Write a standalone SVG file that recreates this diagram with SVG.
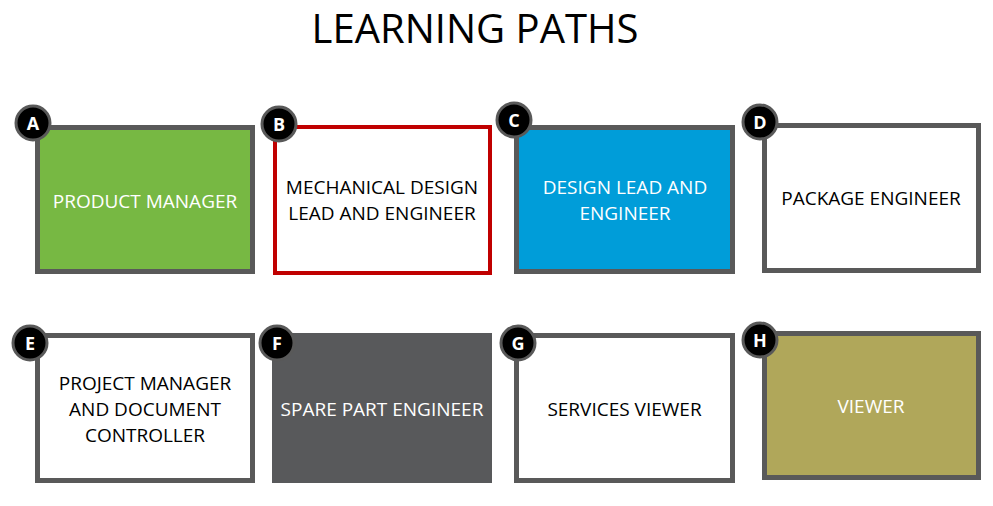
<svg xmlns="http://www.w3.org/2000/svg" width="993" height="506" viewBox="0 0 993 506">
<style>
.box{stroke:#595959;stroke-width:5}
.lbl{font-family:"Open Sans","Noto Sans","Liberation Sans",sans-serif;font-size:19px;text-anchor:middle}
.dark{fill:#000}
.light{fill:#fff}
.badge circle{fill:#000;stroke:#595959;stroke-width:3}
.badge text{font-family:"Open Sans","Liberation Sans",sans-serif;font-weight:bold;font-size:18px;fill:#fff;text-anchor:middle}
.title{font-family:"Open Sans","Noto Sans","Liberation Sans",sans-serif;font-size:40px;text-anchor:middle;fill:#000}
</style>
<rect width="993" height="506" fill="#fff"/>
<text class="title" x="475" y="43">LEARNING PATHS</text>
<g id="connectors"/>
<g id="nodeA">
<rect class="box" x="37.5" y="127.5" width="215" height="144" fill="#77B843"/>
<text class="lbl light" x="145" y="208">PRODUCT MANAGER</text>
<g class="badge"><circle cx="33" cy="123" r="17"/><text x="33" y="129.5">A</text></g>
</g>
<g id="nodeB">
<rect x="275" y="127" width="215" height="146" fill="#fff" stroke="#C00000" stroke-width="4"/>
<text class="lbl dark" x="382" y="194">MECHANICAL DESIGN</text>
<text class="lbl dark" x="382" y="220">LEAD AND ENGINEER</text>
<g class="badge"><circle cx="279" cy="124" r="17"/><text x="279" y="130.5">B</text></g>
</g>
<g id="nodeC">
<rect class="box" x="516.5" y="127.5" width="216" height="144" fill="#009DD9"/>
<text class="lbl light" x="625" y="194">DESIGN LEAD AND</text>
<text class="lbl light" x="625" y="220">ENGINEER</text>
<g class="badge"><circle cx="514" cy="120" r="17"/><text x="514" y="126.5">C</text></g>
</g>
<g id="nodeD">
<rect class="box" x="764.5" y="125.5" width="214" height="145" fill="#fff"/>
<text class="lbl dark" x="871" y="205">PACKAGE ENGINEER</text>
<g class="badge"><circle cx="760" cy="122" r="17"/><text x="760" y="128.5">D</text></g>
</g>
<g id="nodeE">
<rect class="box" x="37.5" y="335.5" width="215" height="145" fill="#fff"/>
<text class="lbl dark" x="145" y="390">PROJECT MANAGER</text>
<text class="lbl dark" x="145" y="416">AND DOCUMENT</text>
<text class="lbl dark" x="145" y="442">CONTROLLER</text>
<g class="badge"><circle cx="30" cy="343" r="17"/><text x="30" y="349.5">E</text></g>
</g>
<g id="nodeF">
<rect x="272" y="333" width="220" height="150" fill="#58595B"/>
<text class="lbl light" x="382" y="416">SPARE PART ENGINEER</text>
<g class="badge"><circle cx="277" cy="343" r="17"/><text x="277" y="349.5">F</text></g>
</g>
<g id="nodeG">
<rect class="box" x="516.5" y="335.5" width="216" height="145" fill="#fff"/>
<text class="lbl dark" x="624.5" y="416">SERVICES VIEWER</text>
<g class="badge"><circle cx="518" cy="343" r="17"/><text x="518" y="349.5">G</text></g>
</g>
<g id="nodeH">
<rect class="box" x="764.5" y="333.5" width="214" height="144" fill="#B0A75A"/>
<text class="lbl light" x="871" y="413">VIEWER</text>
<g class="badge"><circle cx="760" cy="340" r="17"/><text x="760" y="346.5">H</text></g>
</g>
</svg>
